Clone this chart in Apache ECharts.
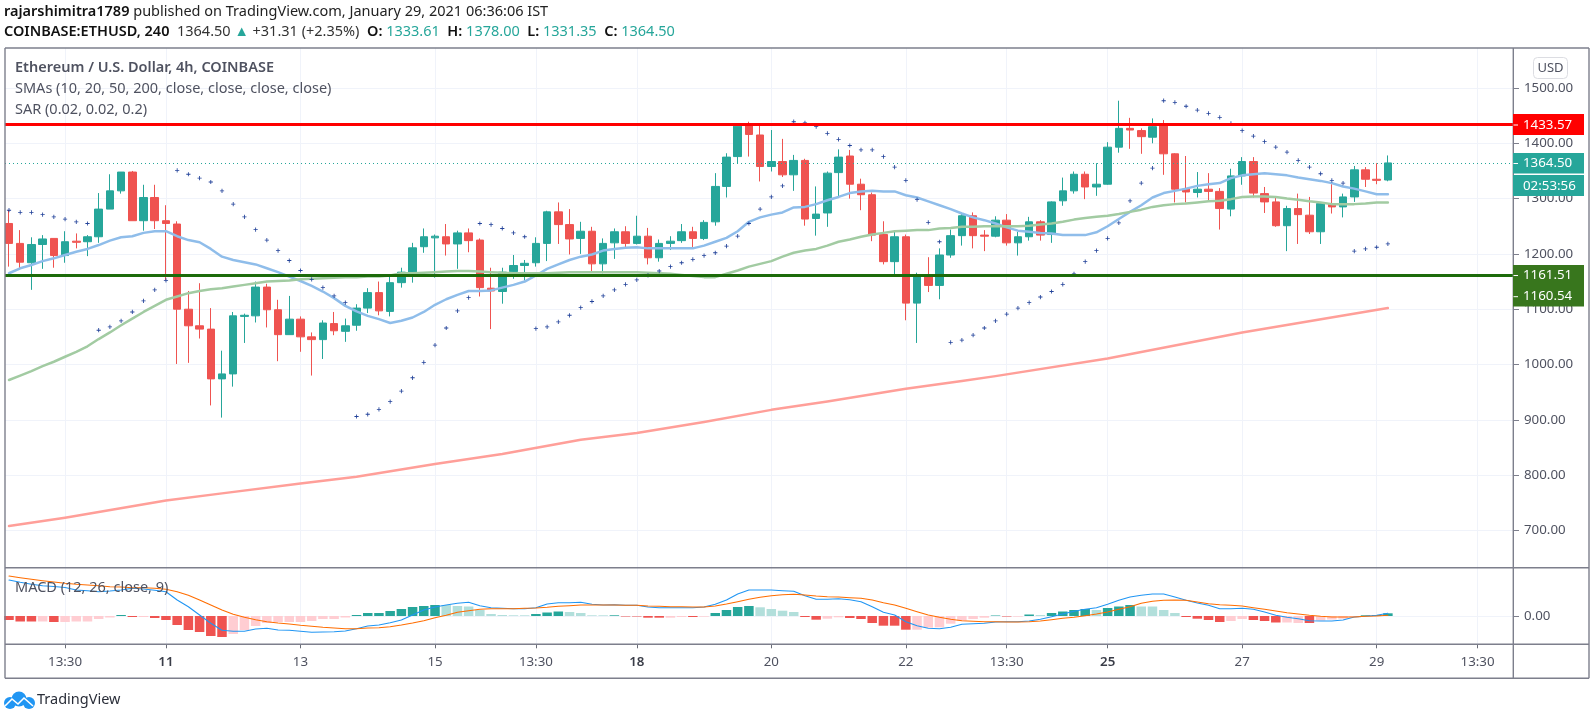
<!DOCTYPE html>
<html><head><meta charset="utf-8">
<style>html,body{margin:0;padding:0;background:#fff}#c{width:1592px;height:713px}</style>
<script src="https://cdn.jsdelivr.net/npm/echarts@6/dist/echarts.min.js"></script>
</head><body><div id="c"></div>
<script>
const opens=[1255,1219,1184,1217,1228,1197,1223,1222,1231,1281,
1314,1348,1260,1302,1260,1254,1100,1070,1064,974,
983,1087,1088,1140,1099,1054,1082,1050,1045,1074,
1060,1071,1102,1130,1096,1148,1165,1213,1229,1231,
1218,1238,1225,1138,1132,1168,1179,1184,1219,1276,
1253,1228,1241,1182,1220,1240,1219,1232,1193,1219,
1224,1240,1228,1258,1322,1376,1433,1415,1358,1367,
1343,1369,1264,1274,1347,1377,1326,1307,1235,1186,
1231,1111,1160,1143,1198,1233,1269,1234,1232,1261,
1220,1231,1258,1235,1296,1314,1344,1321,1326,1393,
1427,1423,1411,1432,1381,1317,1311,1317,1313,1281,
1341,1367,1309,1294,1251,1282,1270,1240,1290,1285,
1303,1352,1335,1333.61];
const closes=[1219,1185,1217,1227,1197,1222,1221,1231,1281,1314,
1348,1260,1302,1260,1255,1100,1070,1064,974,983,
1088,1089,1140,1099,1054,1082,1050,1045,1075,1061,
1070,1102,1130,1097,1148,1167,1211,1231,1232,1218,
1238,1224,1139,1133,1167,1179,1183,1219,1276,1253,
1227,1241,1182,1219,1240,1219,1232,1193,1219,1223,
1240,1228,1257,1322,1375,1431,1416,1358,1367,1343,
1369,1263,1272,1346,1375,1326,1307,1234,1186,1231,
1111,1160,1143,1198,1233,1269,1233,1232,1261,1220,
1231,1258,1234,1294,1314,1344,1321,1326,1393,1427,
1424,1412,1430,1381,1317,1312,1317,1313,1282,1341,
1367,1310,1294,1251,1282,1271,1240,1291,1285,1303,
1352,1335,1333,1364.5];
const highs=[1279,1243,1230,1234,1228,1241,1237,1234,1310,1344,
1348,1350,1325,1325,1288,1259,1133,1147,1102,1025,
1095,1092,1150,1146,1117,1124,1087,1058,1080,1095,
1083,1109,1138,1150,1160,1175,1220,1246,1235,1254,
1242,1246,1228,1175,1175,1198,1189,1230,1278,1293,
1281,1258,1249,1228,1246,1250,1269,1247,1226,1232,
1254,1249,1261,1346,1382,1433,1439,1436,1424,1408,
1379,1372,1322,1349,1389,1388,1336,1311,1259,1240,
1235,1166,1194,1210,1244,1275,1275,1243,1268,1272,
1240,1267,1261,1295,1338,1349,1349,1364,1402,1477,
1446,1427,1445,1442,1382,1377,1348,1346,1319,1354,
1375,1375,1321,1303,1287,1309,1303,1293,1326,1309,
1359,1357,1364,1378];
const lows=[1177,1172,1135,1173,1175,1184,1210,1196,1220,1281,
1309,1260,1242,1245,1153,1001,1003,1047,926,904,
960,1039,1076,1067,1006,1054,1023,980,1010,1053,
1041,1061,1093,1089,1087,1139,1148,1202,1157,1197,
1173,1203,1123,1064,1110,1155,1152,1177,1187,1218,
1199,1200,1167,1165,1191,1210,1217,1181,1186,1207,
1220,1211,1225,1251,1302,1363,1376,1331,1349,1339,
1314,1251,1233,1249,1302,1300,1279,1223,1181,1162,
1080,1039,1131,1118,1193,1215,1210,1205,1230,1215,
1197,1224,1224,1220,1287,1309,1299,1305,1325,1383,
1390,1381,1400,1343,1293,1293,1302,1294,1244,1268,
1325,1302,1274,1249,1205,1218,1236,1218,1273,1266,
1294,1321,1326,1331.35];
const smaBlue=[1165,1174,1180,1187,1192,1198,1204,1209,1216,1224,
1230,1232,1238,1241,1241,1232,1225,1221,1209,1195,
1189,1185,1181,1174,1167,1159,1151,1142,1132,1120,
1106,1096,1088,1082,1075,1079,1085,1095,1108,1118,
1126,1133,1133,1134,1139,1144,1150,1161,1173,1181,
1189,1195,1199,1206,1209,1211,1212,1210,1210,1210,
1210,1210,1215,1222,1229,1241,1258,1266,1271,1275,
1284,1285,1290,1297,1303,1310,1313,1314,1313,1313,
1306,1302,1295,1288,1281,1273,1266,1261,1255,1248,
1242,1240,1238,1237,1234,1234,1234,1239,1250,1263,
1276,1288,1302,1310,1314,1318,1323,1326,1328,1337,
1342,1344,1346,1344,1342,1338,1335,1332,1328,1322,
1318,1313,1308,1308];
const smaGreen=[972,980,988,997,1005,1014,1023,1033,1046,1058,
1071,1083,1095,1106,1117,1123,1129,1133,1136,1138,
1141,1144,1147,1150,1151,1152,1154,1155,1156,1157,
1158,1158,1159,1159,1161,1165,1165,1166,1167,1168,
1169,1169,1168,1167,1166,1165,1165,1165,1165,1166,
1167,1167,1167,1167,1167,1167,1167,1166,1165,1164,
1162,1160,1158,1158,1164,1170,1177,1182,1187,1195,
1202,1206,1209,1215,1222,1226,1231,1235,1238,1241,
1242,1243,1243,1246,1247,1249,1249,1250,1250,1250,
1250,1251,1253,1255,1258,1262,1265,1267,1269,1272,
1276,1280,1285,1288,1290,1291,1293,1295,1296,1299,
1303,1304,1304,1303,1300,1298,1295,1293,1290,1290,
1290,1291,1293,1293];
const sma200Index=[0,5,14,19,26,31,38,44,51,56,62,68,73,80,85,88,98,110,123];
const sma200Values=[708,723,754,767,785,797,820,838,864,876,896,918,933,956,970,979,1011,1058,1102];
const sar=[1279,1275,1275,1271,1267,1263,1258,1255,1062,1068,
1079,1095,1115,1135,1152,1351,1344,1337,1330,1314,
1290,1267,1244,1225,1206,1188,1170,1154,1139,1124,
1112,906,910,919,933,952,976,1004,1035,1066,
1097,1121,1255,1253,1246,1238,1231,1065,1068,1077,
1089,1103,1114,1124,1135,1145,1153,1161,1169,1177,
1184,1190,1197,1202,1214,1232,1255,1281,1303,1323,
1439,1437,1430,1418,1407,1396,1388,1388,1376,1357,
1333,1298,1257,1222,1040,1044,1053,1066,1079,1091,
1102,1112,1122,1132,1145,1164,1186,1206,1228,1256,
1296,1328,1355,1477,1474,1467,1460,1454,1447,1436,
1423,1413,1403,1393,1384,1369,1357,1345,1333,1328,
1205,1209,1212,1218];
const macdHist=[-4,-5.5,-5.5,-5.5,-6,-6,-5.5,-5.5,-3,-1.5,
1,-1,-1,-2,-4,-9,-14,-16,-20,-21,
-18,-14,-10,-7,-6,-6,-6,-5,-3,-3,
-1.5,1,3,3,5,7,9,10,11,11,
10,9.5,6,2,1,0.7,0.7,2,3.5,4.5,
4,3,0.7,0.7,0.7,-0.5,-0.5,-1.7,-1.7,-1.7,
-1,-1,-0.7,3,6,9,10,8.7,7,5.3,
4,-1,-3.7,-2.7,-1.3,-2,-3,-7,-9.7,-9.7,
-13.7,-13.7,-11.7,-11.3,-7.7,-4.7,-3,-1.7,0.5,-0.5,
-0.7,1.5,1,3,4.5,6,7,6,8,9.5,
11,9.5,9.5,6,3,-1,-2.7,-4,-6,-5,
-3,-4,-5,-6.5,-6.5,-7,-7,-4.5,-3.5,-2.7,
-1.3,0.7,1,2.7];
const histStrong=[1,1,1,0,1,0,0,0,0,0,
1,1,0,1,1,1,1,1,1,1,
0,0,0,0,0,0,0,0,0,0,
0,1,1,1,1,1,1,1,1,0,
0,0,0,0,0,0,0,1,1,1,
0,0,0,0,1,1,1,1,1,0,
0,1,0,1,1,1,1,0,0,0,
0,1,1,0,0,1,1,1,1,1,
1,0,0,0,0,0,0,0,1,1,
0,1,0,1,1,1,1,0,1,1,
1,0,0,0,0,1,1,1,1,0,
0,1,1,1,0,0,1,0,0,0,
0,1,1,1];
const macdLine=[36,33.7,31.7,30.3,29.5,28.5,26,25.3,24.3,25,
26,27.7,27,25.7,24.3,16,9.3,1,-7.3,-14.3,
-15.3,-15.3,-13,-12.3,-14,-14.3,-15.3,-16.3,-16,-15.7,
-15,-12.7,-10,-9,-6.7,-4,1,6,9,11,
12.7,13.7,10.3,8.3,7.7,7.3,7.3,8.3,12,13.3,
13.3,13.7,11.7,11,11.3,10.7,10.7,9,8.3,8.3,
8.3,8.3,9,11.7,16,22,26,26,26,25.3,
24.7,20.3,16.7,16.7,17.3,16.3,14.3,9.3,3.7,1,
-5.7,-9.7,-12.3,-12.7,-11.3,-8.3,-7.7,-7.3,-6,-5.7,
-5.7,-5,-3.3,-0.7,2,4.7,6.7,8.3,11.7,15.7,
19,20.7,22,22,19,15.7,13,10.7,7.3,7.3,
7.7,6.7,4,0.7,-1.3,-2.7,-4.7,-5,-5,-4,
-1,-0.3,0.7,2.7];
const macdSignal=[40,38.3,36.7,35.3,34,32.7,31.7,31,30.3,29.3,
29,28.3,28.3,27.7,26.7,24.3,20.7,16,11,6,
1.7,-1.3,-3.7,-5.7,-7,-8,-9.3,-10.3,-11.3,-12,
-12.7,-12.7,-12,-11.7,-10.7,-9,-7,-4.7,-1.7,0.7,
3.7,5.3,6.7,7.3,7.3,7.3,7.7,8,8.7,9.7,
10.3,11,11,11,11,10.7,10.7,10,9.7,9.3,
9.3,9,9,10,12,14.3,16.7,18.7,20.3,21.3,
21.7,21,20,19.3,19,18.3,17.7,16,13.3,11,
7.7,4.3,1,-1.3,-3.3,-4.7,-5.3,-5.7,-5.7,-6,
-6,-5.7,-5,-3.7,-2.3,-1.3,0.3,2,4,6.7,
9.3,12.7,14.7,15.7,16,15.7,14,12.3,11.3,10.7,
10,8.3,6.7,5,3.3,2,0.7,-0.3,-1,-1,
-1,-0.3,0,0.7];
const timeTickIndex=[5,14,26,38,47,56,68,80,89,98,110,122,131];
const timeTickLabels=['13:30','11','13','15','13:30','18','20','22','13:30','25','27','29','13:30'];
const boldTimeLabels=['11','18','25'];
const priceTicks=[700,800,900,1000,1100,1200,1300,1400,1500];
const macdTicks=[0];
const resistance=1433.57, support=1161.51, lastPrice=1364.50;

const FONT='"Noto Sans",sans-serif', TXT='#4f5260', FRAME='#7d7f8c', GRID='#f0f3fa';
const UP='#26a69a', DOWN='#ef5350';
const xMin=-0.357, xMax=134.16;
const idx=opens.map((_,i)=>i);
const noLine={show:false,onZero:false};
const xBase={type:'value',min:xMin,max:xMax,axisLine:noLine,
  splitLine:{show:true,lineStyle:{color:GRID,width:1}},
  axisPointer:{show:false}};
const lineSeries=(name,data,color,width,z,xi)=>({name,type:'line',data,xAxisIndex:xi,yAxisIndex:xi,
  showSymbol:false,symbol:'none',silent:true,z,animation:false,
  lineStyle:{color,width,cap:'round',join:'round'}});
const hLine=(v,color,width,type)=>({yAxis:v,lineStyle:{color,width,type}});
const tag=(y0,h,fill,labels)=>[
  {type:'rect',z:50,shape:{x:1513,y:y0,width:71,height:h},style:{fill}},
  ...labels.map(l=>({type:'text',z:51,x:1523,y:l.y,style:{text:l.t,fill:'#fff',font:'13.3px '+FONT,textVerticalAlign:'middle'}})),
  ...labels.filter(l=>l.tick).map(l=>({type:'line',z:51,shape:{x1:1513.5,y1:l.y,x2:1518,y2:l.y},style:{stroke:'#fff',lineWidth:1}}))
];
const legendText=(t,y,w)=>({type:'text',z:40,x:15,y,style:{text:t,fill:TXT,font:(w?w+' ':'')+'14.5px '+FONT,textVerticalAlign:'middle'}});
const frame=(x1,y1,x2,y2)=>({type:'line',z:30,shape:{x1,y1,x2,y2},style:{stroke:FRAME,lineWidth:1.4}});

const chart=echarts.init(document.getElementById('c'),null,{renderer:'canvas'});
chart.setOption({
  animation:false,backgroundColor:'#fff',
  grid:[{left:5,right:79,top:48,height:519.7,containLabel:false},{left:5,right:79,top:567.7,height:76.6}],
  xAxis:[
    {...xBase,gridIndex:0,axisTick:{show:false,customValues:timeTickIndex},axisLabel:{show:false,customValues:timeTickIndex}},
    {...xBase,gridIndex:1,axisTick:{show:true,length:4,lineStyle:{color:'#6a6d78'},customValues:timeTickIndex},
     axisLabel:{show:true,margin:11,fontSize:13.3,fontFamily:FONT,color:TXT,customValues:timeTickIndex,hideOverlap:false,showMinLabel:true,showMaxLabel:true,
       rich:{b:{fontSize:13.3,fontFamily:FONT,color:'#3a3d48',fontWeight:600}},
       formatter:v=>{const t=timeTickLabels[timeTickIndex.indexOf(Math.round(v))]||'';return boldTimeLabels.includes(t)?'{b|'+t+'}':t;}}}
  ],
  yAxis:[
    {type:'value',gridIndex:0,position:'right',min:632.6,max:1572.3,scale:true,axisLine:noLine,
     axisTick:{show:true,length:6,lineStyle:{color:FRAME},customValues:priceTicks},
     axisLabel:{show:true,margin:11,fontSize:13.3,fontFamily:FONT,color:TXT,customValues:priceTicks,formatter:v=>v.toFixed(2)},
     splitLine:{show:true,lineStyle:{color:GRID,width:1}}},
    {type:'value',gridIndex:1,position:'right',min:-28.3,max:48.3,axisLine:noLine,
     axisTick:{show:true,length:6,lineStyle:{color:FRAME},customValues:macdTicks},
     axisLabel:{show:true,margin:11,fontSize:13.3,fontFamily:FONT,color:TXT,customValues:macdTicks,formatter:v=>v.toFixed(2)},
     splitLine:{show:true,lineStyle:{color:GRID,width:1}}}
  ],
  series:[
    {name:'ETHUSD',type:'candlestick',xAxisIndex:0,yAxisIndex:0,z:2,barWidth:8,silent:true,
     encode:{x:0,y:[1,2,3,4]},
     data:idx.map(i=>[i,opens[i],closes[i],lows[i],highs[i]]),
     itemStyle:{color:UP,color0:DOWN,borderColor:UP,borderColor0:DOWN,borderWidth:1},
     markLine:{silent:true,symbol:'none',label:{show:false},animation:false,z:6,
       data:[hLine(lastPrice,'#26a69a',1,[1,3]),hLine(resistance,'#ff0000',2.8,'solid'),hLine(support,'#1c6b0a',2.8,'solid')]}},
    lineSeries('SMA 20',idx.map(i=>[i,smaBlue[i]]),'#8fbdea',2.5,3,0),
    lineSeries('SMA 50',idx.map(i=>[i,smaGreen[i]]),'#a2cba2',2.5,3,0),
    lineSeries('SMA 200',sma200Index.map((x,i)=>[x,sma200Values[i]]),'#ff9f99',2.5,3,0),
    {name:'SAR',type:'scatter',xAxisIndex:0,yAxisIndex:0,z:4,silent:true,
     symbol:'path://M2 0H3V2H5V3H3V5H2V3H0V2H2Z',symbolSize:4.2,
     data:idx.map(i=>[i,sar[i]]),itemStyle:{color:'#0b2f8f',opacity:.9}},
    {name:'Histogram',type:'bar',xAxisIndex:1,yAxisIndex:1,z:2,barWidth:9.5,silent:true,
     data:idx.map(i=>({value:[i,macdHist[i]],itemStyle:{color:macdHist[i]>=0?(histStrong[i]?'#26a69a':'#b2dfdb'):(histStrong[i]?'#ef5350':'#ffcdd2')}}))},
    lineSeries('MACD',idx.map(i=>[i,macdLine[i]]),'#2196f3',1.1,3,1),
    lineSeries('Signal',idx.map(i=>[i,macdSignal[i]]),'#ff6d00',1.1,3,1)
  ],
  graphic:[
    frame(5,48,1589,48),frame(5,678.3,1589,678.3),frame(5,48,5,678.3),frame(1589,48,1589,678.3),
    frame(1513.3,48,1513.3,678.3),frame(5,567.7,1589,567.7),frame(5,644.3,1589,644.3),
    {type:'text',z:40,x:4,y:11.5,style:{font:'14.5px '+FONT,fill:'#222',textVerticalAlign:'middle',
      text:'{b|rajarshimitra1789} published on TradingView.com, January 29, 2021 06:36:06 IST',
      rich:{b:{fontWeight:600,fontSize:14.5,fontFamily:FONT,fill:'#111'}}}},
    {type:'text',z:40,x:4,y:31.5,style:{font:'14.5px '+FONT,fill:'#333',textVerticalAlign:'middle',
      text:'{b|COINBASE:ETHUSD, 240}  1364.50 {g|▲} +31.31 (+2.35%)  {b|O:} {g|1333.61}  {b|H:} {g|1378.00}  {b|L:} {g|1331.35}  {b|C:} {g|1364.50}',
      rich:{b:{fontWeight:600,fontSize:14.5,fontFamily:FONT,fill:'#111'},g:{fontSize:14.5,fontFamily:FONT,fill:'#26a69a'}}}},
    legendText('Ethereum / U.S. Dollar, 4h, COINBASE',68,600),
    legendText('SMAs (10, 20, 50, 200, close, close, close, close)',89),
    legendText('SAR (0.02, 0.02, 0.2)',110),
    legendText('MACD (12, 26, close, 9)',587.5),
    {type:'rect',z:40,shape:{x:1533.5,y:57.5,width:34,height:21,r:4},style:{fill:'#fff',stroke:'#dcdde2',lineWidth:1}},
    {type:'text',z:41,x:1550.5,y:68,style:{text:'USD',fill:TXT,font:'13px '+FONT,textAlign:'center',textVerticalAlign:'middle'}},
    ...tag(114,21,'#ff0000',[{t:'1433.57',y:125,tick:1}]),
    ...tag(153,20.5,'#26a69a',[{t:'1364.50',y:163.5,tick:1}]),
    ...tag(175,21,'#26a69a',[{t:'02:53:56',y:186}]),
    ...tag(265,41.5,'#38761d',[{t:'1161.51',y:275.5,tick:1},{t:'1160.54',y:296.7,tick:1}]),
    {type:'circle',z:40,shape:{cx:10,cy:703,r:6},style:{fill:'#2196f3'}},
    {type:'circle',z:40,shape:{cx:19,cy:699,r:7.5},style:{fill:'#2196f3'}},
    {type:'circle',z:40,shape:{cx:29,cy:703,r:6},style:{fill:'#2196f3'}},
    {type:'polyline',z:41,shape:{points:[[5,706],[12,699],[18,704],[24,698],[33,706]]},style:{stroke:'#fff',lineWidth:1.6,fill:null}},
    {type:'text',z:40,x:37,y:700,style:{text:'TradingView',fill:'#2a2e39',font:'14.5px '+FONT,textVerticalAlign:'middle'}}
  ]
});
</script></body></html>
